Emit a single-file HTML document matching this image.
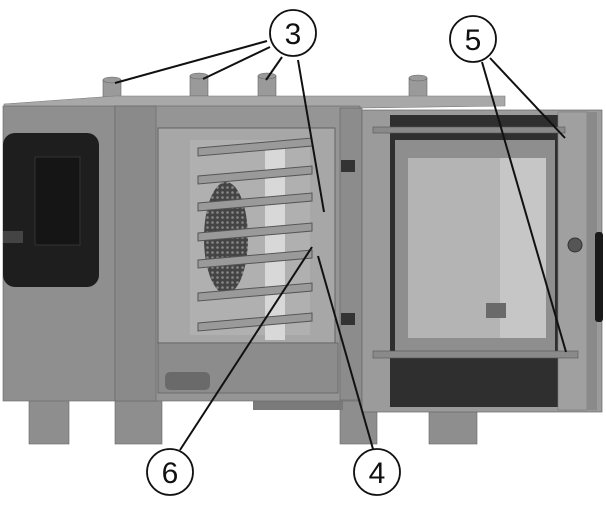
<!DOCTYPE html>
<html><head><style>html,body{margin:0;padding:0;background:#fff}svg{display:block}</style></head>
<body>
<svg width="606" height="512" viewBox="0 0 606 512" xmlns="http://www.w3.org/2000/svg">
<defs>
<pattern id="mesh" width="5" height="5" patternUnits="userSpaceOnUse"><rect width="5" height="5" fill="#444"/><circle cx="2.5" cy="2.5" r="1.3" fill="#888"/></pattern>
</defs>
<g fill="#9a9a9a" stroke="#666" stroke-width="0.6">
<rect x="103" y="80" width="18" height="20"/><ellipse cx="112" cy="80" rx="9" ry="3"/>
<rect x="190" y="76" width="18" height="20"/><ellipse cx="199" cy="76" rx="9" ry="3"/>
<rect x="258" y="76" width="18" height="20"/><ellipse cx="267" cy="76" rx="9" ry="3"/>
<rect x="409" y="78" width="18" height="20"/><ellipse cx="418" cy="78" rx="9" ry="3"/>
</g>
<polygon points="4,104 115,96 505,96 505,106 360,108 115,108 4,110" fill="#a8a8a8" stroke="#777" stroke-width="0.6"/>
<g fill="#8e8e8e" stroke="#666" stroke-width="0.6">
<rect x="29" y="398" width="40" height="46"/><rect x="115" y="398" width="47" height="46"/>
<rect x="340" y="398" width="37" height="46"/><rect x="429" y="398" width="48" height="46"/>
</g>
<rect x="253" y="392" width="90" height="18" fill="#7a7a7a"/>
<rect x="3" y="106" width="112" height="295" fill="#8f8f8f" stroke="#666" stroke-width="0.6"/>
<rect x="3" y="133" width="96" height="154" rx="12" fill="#1e1e1e"/>
<rect x="35" y="157" width="45" height="88" fill="#151515" stroke="#333"/>
<rect x="3" y="231" width="20" height="12" fill="#444"/>
<rect x="115" y="106" width="245" height="295" fill="#959595" stroke="#666" stroke-width="0.6"/>
<rect x="115" y="106" width="41" height="295" fill="#8a8a8a" stroke="#666" stroke-width="0.6"/>
<rect x="158" y="128" width="177" height="215" fill="#a7a7a7" stroke="#555" stroke-width="0.8"/>
<rect x="190" y="140" width="120" height="195" fill="#b0b0b0"/>
<rect x="265" y="145" width="20" height="195" fill="#d8d8d8"/>
<ellipse cx="226" cy="238" rx="22" ry="56" fill="url(#mesh)"/>
<g fill="#9a9a9a" stroke="#555" stroke-width="1">
<polygon points="198,148 312,138 312,146 198,156"/>
<polygon points="198,176 312,166 312,174 198,184"/>
<polygon points="198,203 312,193 312,201 198,211"/>
<polygon points="198,233 312,223 312,231 198,241"/>
<polygon points="198,260 312,250 312,258 198,268"/>
<polygon points="198,293 312,283 312,291 198,301"/>
<polygon points="198,323 312,313 312,321 198,331"/>
</g>
<rect x="158" y="343" width="180" height="50" fill="#8c8c8c" stroke="#555" stroke-width="0.6"/>
<rect x="165" y="372" width="45" height="18" rx="5" fill="#6a6a6a"/>
<rect x="340" y="108" width="22" height="292" fill="#8c8c8c" stroke="#666" stroke-width="0.6"/>
<rect x="341" y="160" width="14" height="12" fill="#333"/><rect x="341" y="313" width="14" height="12" fill="#333"/>
<rect x="362" y="110" width="240" height="302" fill="#9b9b9b" stroke="#666" stroke-width="0.7"/>
<rect x="390" y="115" width="168" height="292" fill="#2f2f2f"/>
<rect x="395" y="140" width="160" height="215" fill="#8e8e8e"/>
<rect x="408" y="158" width="138" height="180" fill="#b4b4b4"/>
<rect x="500" y="158" width="46" height="180" fill="#c6c6c6"/>
<rect x="486" y="303" width="20" height="15" fill="#6a6a6a"/>
<rect x="558" y="112" width="29" height="298" fill="#a0a0a0" stroke="#777" stroke-width="0.6"/>
<rect x="587" y="112" width="10" height="298" fill="#8a8a8a"/>
<circle cx="575" cy="245" r="7" fill="#555" stroke="#333"/>
<rect x="595" y="232" width="8" height="90" rx="3" fill="#1a1a1a"/>
<rect x="373" y="127" width="192" height="6" fill="#8a8a8a" stroke="#555" stroke-width="0.6"/>
<rect x="373" y="351" width="205" height="7" fill="#8a8a8a" stroke="#555" stroke-width="0.6"/>
<g stroke="#111" stroke-width="2" fill="none">
<line x1="267" y1="41" x2="115" y2="83"/>
<line x1="270" y1="47" x2="203" y2="79"/>
<line x1="282" y1="57" x2="266" y2="80"/>
<line x1="298" y1="60" x2="324" y2="212"/>
<line x1="482" y1="62" x2="566" y2="352"/>
<line x1="490" y1="58" x2="565" y2="138"/>
<line x1="180" y1="450" x2="312" y2="247"/>
<line x1="373" y1="449" x2="318" y2="256"/>
</g>
<g fill="#fff" stroke="#111" stroke-width="1.8">
<circle cx="293" cy="33" r="23"/><circle cx="473" cy="39" r="23"/>
<circle cx="170" cy="472" r="23"/><circle cx="377" cy="472" r="23"/>
</g>
<g font-family="Liberation Sans, sans-serif" font-size="30" text-anchor="middle" fill="#111">
<text x="293" y="44">3</text><text x="473" y="50">5</text>
<text x="170" y="483">6</text><text x="377" y="483">4</text>
</g>
</svg>
</body></html>
